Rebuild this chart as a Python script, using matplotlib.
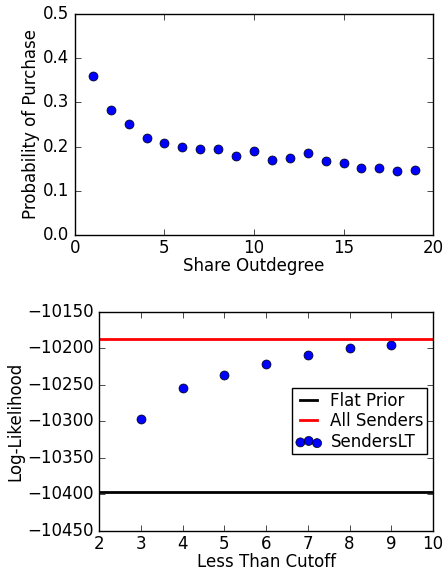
import numpy as np
import matplotlib
matplotlib.use('Agg')
import matplotlib.pyplot as plt

plt.style.use('classic')
plt.rcParams['font.size'] = 12
plt.rcParams['font.family'] = 'DejaVu Sans'
plt.rcParams['axes.formatter.useoffset'] = False
plt.rcParams['xtick.major.pad'] = 3

# top panel: purchase probability vs share outdegree
outdegree = np.arange(1, 20)
prob_purchase = [0.360, 0.282, 0.252, 0.219, 0.209, 0.198, 0.194, 0.194, 0.178, 0.189,
                 0.170, 0.175, 0.185, 0.168, 0.163, 0.152, 0.152, 0.145, 0.146]

# bottom panel: log-likelihood vs cutoff
cutoff = [3, 4, 5, 6, 7, 8, 9]
loglik_lt = [-10297, -10255, -10237, -10222, -10209, -10199, -10195]
flat_prior = -10397
all_senders = -10187

fig = plt.figure(figsize=(4.46, 5.72), dpi=100, facecolor='white')

ax1 = fig.add_axes([0.168, 0.589, 0.803, 0.387])
ax1.scatter(outdegree, prob_purchase, s=42, c='blue', edgecolors='black', linewidths=0.5)
ax1.set_xlim(0, 20)
ax1.set_ylim(0, 0.5)
ax1.set_xlabel('Share Outdegree', labelpad=0)
ax1.set_ylabel('Probability of Purchase', labelpad=2)

ax2 = fig.add_axes([0.222, 0.072, 0.749, 0.383])
ax2.axhline(flat_prior, color='black', lw=2, label='Flat Prior')
ax2.axhline(all_senders, color='red', lw=2, label='All Senders')
ax2.scatter(cutoff, loglik_lt, s=42, c='blue', edgecolors='black', linewidths=0.5,
            label='SendersLT')
ax2.set_xlim(2, 10)
ax2.set_ylim(-10450, -10150)
ax2.set_xlabel('Less Than Cutoff', labelpad=0)
ax2.set_ylabel('Log-Likelihood', labelpad=2)
ax2.legend(loc='center right', scatterpoints=3, fontsize=12,
           handlelength=1.6, handletextpad=0.5, labelspacing=0.15,
           borderpad=0.2, borderaxespad=0.35)

fig.savefig('out.png', dpi=100, facecolor='white')
